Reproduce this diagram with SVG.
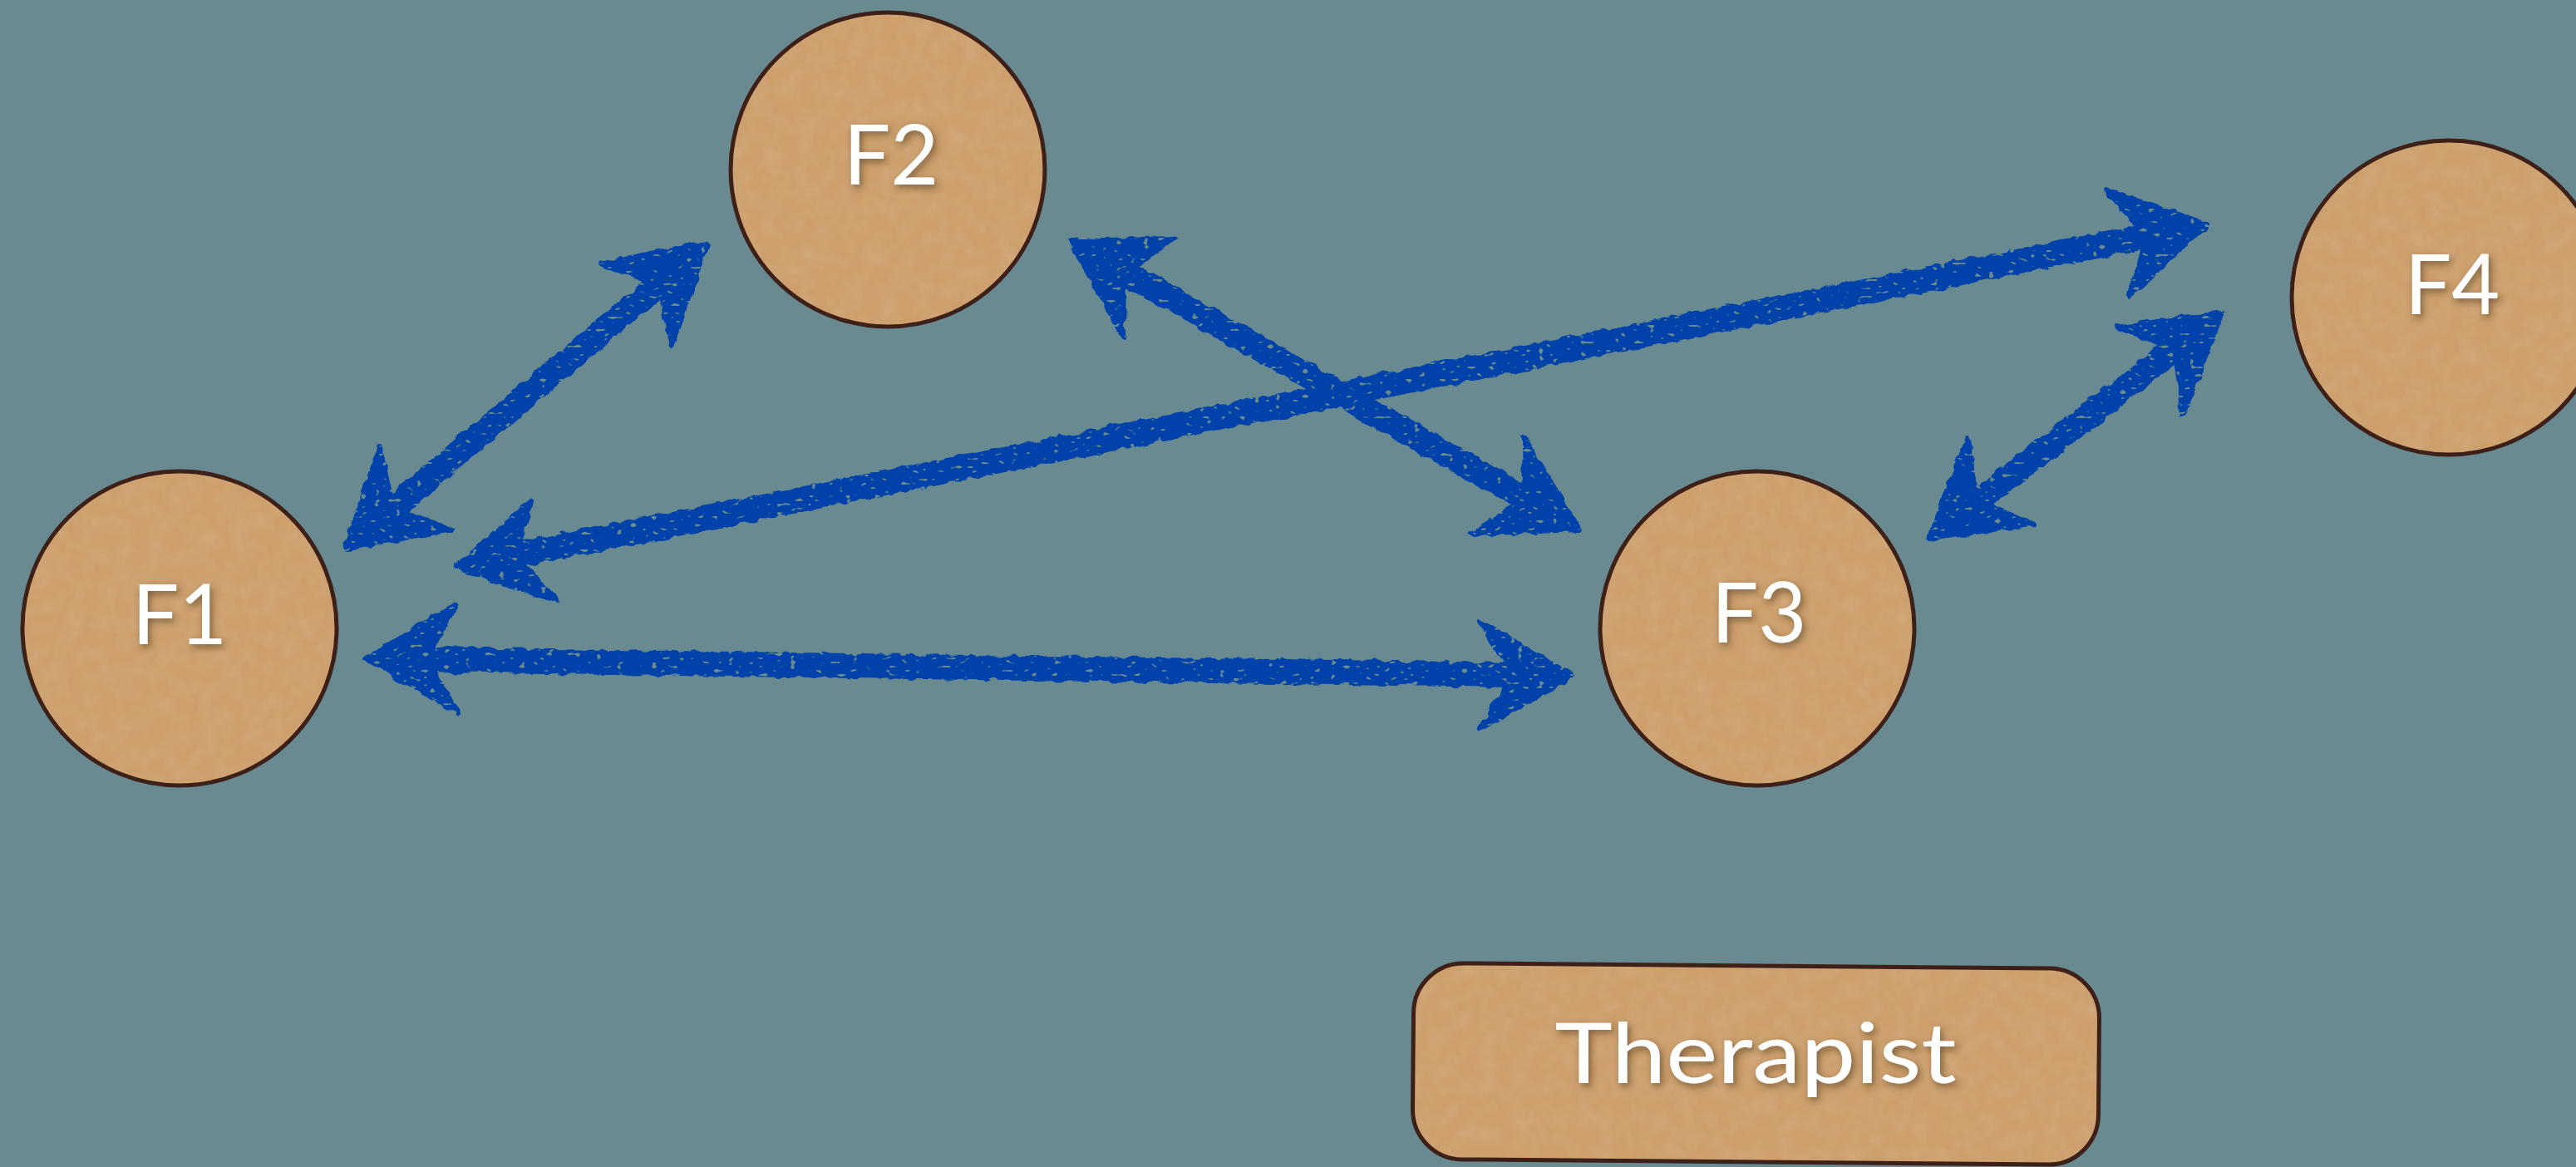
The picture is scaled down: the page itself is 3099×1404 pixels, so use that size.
<svg xmlns="http://www.w3.org/2000/svg" width="3099" height="1404" viewBox="0 0 3099 1404">
<style>
.fill{fill:#CC9F6C;stroke:none;}
.line{fill:none;stroke:#3D2119;stroke-width:5;}
.lbl{font-family:Lato,"Open Sans","Liberation Sans",sans-serif;font-size:100px;fill:#FFFFFF;text-anchor:middle;}
.shaft{fill:none;stroke:#0343A9;stroke-width:30;stroke-linecap:round;}
.head{fill:#0343A9;stroke:#0343A9;stroke-width:6;stroke-linejoin:round;}
</style>
<defs>
<filter id="chalk" filterUnits="userSpaceOnUse" x="0" y="0" width="3099" height="1404">
<feTurbulence type="fractalNoise" baseFrequency="0.07" numOctaves="2" seed="3" result="n"/>
<feDisplacementMap in="SourceGraphic" in2="n" scale="9" xChannelSelector="R" yChannelSelector="G" result="d"/>
<feTurbulence type="fractalNoise" baseFrequency="0.12 0.2" numOctaves="1" seed="11" result="n2"/>
<feColorMatrix in="n2" type="matrix" values="0 0 0 0 0  0 0 0 0 0  0 0 0 0 0  -14 0 0 0 10.1" result="holes"/>
<feComposite in="d" in2="holes" operator="in"/>
</filter>
<filter id="paper" x="-5%" y="-5%" width="110%" height="110%">
<feTurbulence type="fractalNoise" baseFrequency="0.05" numOctaves="3" seed="5" result="pn"/>
<feColorMatrix in="pn" type="matrix" values="0 0 0 0 0.84  0 0 0 0 0.67  0 0 0 0 0.46  0.25 0 0 0 -0.09" result="tint"/>
<feComposite in="tint" in2="SourceGraphic" operator="atop"/>
</filter>
<filter id="shadow" x="-20%" y="-20%" width="140%" height="140%">
<feDropShadow dx="3" dy="4" stdDeviation="4" flood-color="#3a2510" flood-opacity="0.55"/>
</filter>
</defs>
<rect x="0" y="0" width="3099" height="1404" fill="#688A90"/>

<g id="F1">
<circle class="fill" cx="216" cy="756" r="189" filter="url(#paper)"/>
<circle class="line" cx="216" cy="756" r="189"/>
<text class="lbl" x="216" y="775" filter="url(#shadow)">F1</text>
</g>
<g id="F2">
<circle class="fill" cx="1068" cy="204" r="189" filter="url(#paper)"/>
<circle class="line" cx="1068" cy="204" r="189"/>
<text class="lbl" x="1072" y="222" filter="url(#shadow)">F2</text>
</g>
<g id="F3">
<circle class="fill" cx="2114" cy="756" r="189" filter="url(#paper)"/>
<circle class="line" cx="2114" cy="756" r="189"/>
<text class="lbl" x="2116" y="773" filter="url(#shadow)">F3</text>
</g>
<g id="F4">
<circle class="fill" cx="2946" cy="358" r="189" filter="url(#paper)"/>
<circle class="line" cx="2946" cy="358" r="189"/>
<text class="lbl" x="2950" y="378" filter="url(#shadow)">F4</text>
</g>
<g id="Therapist">
<rect class="fill" x="1700" y="1162" width="825" height="236" rx="60" ry="60" transform="rotate(0.5 2112 1280)" filter="url(#paper)"/>
<rect class="line" x="1700" y="1162" width="825" height="236" rx="60" ry="60" transform="rotate(0.5 2112 1280)"/>
<text class="lbl" x="2112" y="1303" font-size="110" textLength="483" lengthAdjust="spacingAndGlyphs" filter="url(#shadow)">Therapist</text>
</g>

<g id="connectors" filter="url(#chalk)">
<!-- F1 - F2 -->
<path class="shaft" d="M472,612 L793,341"/>
<path class="head" d="M850,293 L722,318 L793,341 L808,417 Z"/>
<path class="head" d="M415,660 L457,537 L472,612 L543,637 Z"/>
<!-- F2 - F3 -->
<path class="shaft" d="M1352,327 L1835,600"/>
<path class="head" d="M1287,290 L1413,287 L1352,327 L1351,403 Z"/>
<path class="head" d="M1900,637 L1834,528 L1835,600 L1771,642 Z"/>
<!-- F1 - F4 -->
<path class="shaft" d="M620,668 L2584,284"/>
<path class="head" d="M549,682 L639,603 L620,668 L670,723 Z"/>
<path class="head" d="M2655,270 L2533,228 L2584,284 L2562,355 Z"/>
<!-- F1 - F3 -->
<path class="shaft" d="M512,794 L1820,812"/>
<path class="head" d="M440,792 L549,727 L512,794 L551,857 Z"/>
<path class="head" d="M1892,813 L1780,747 L1820,812 L1780,878 Z"/>
<!-- F3 - F4 -->
<path class="shaft" d="M2378,604 L2616,420"/>
<path class="head" d="M2321,648 L2367,528 L2378,604 L2448,630 Z"/>
<path class="head" d="M2673,376 L2545,393 L2616,420 L2627,497 Z"/>
</g>
</svg>
